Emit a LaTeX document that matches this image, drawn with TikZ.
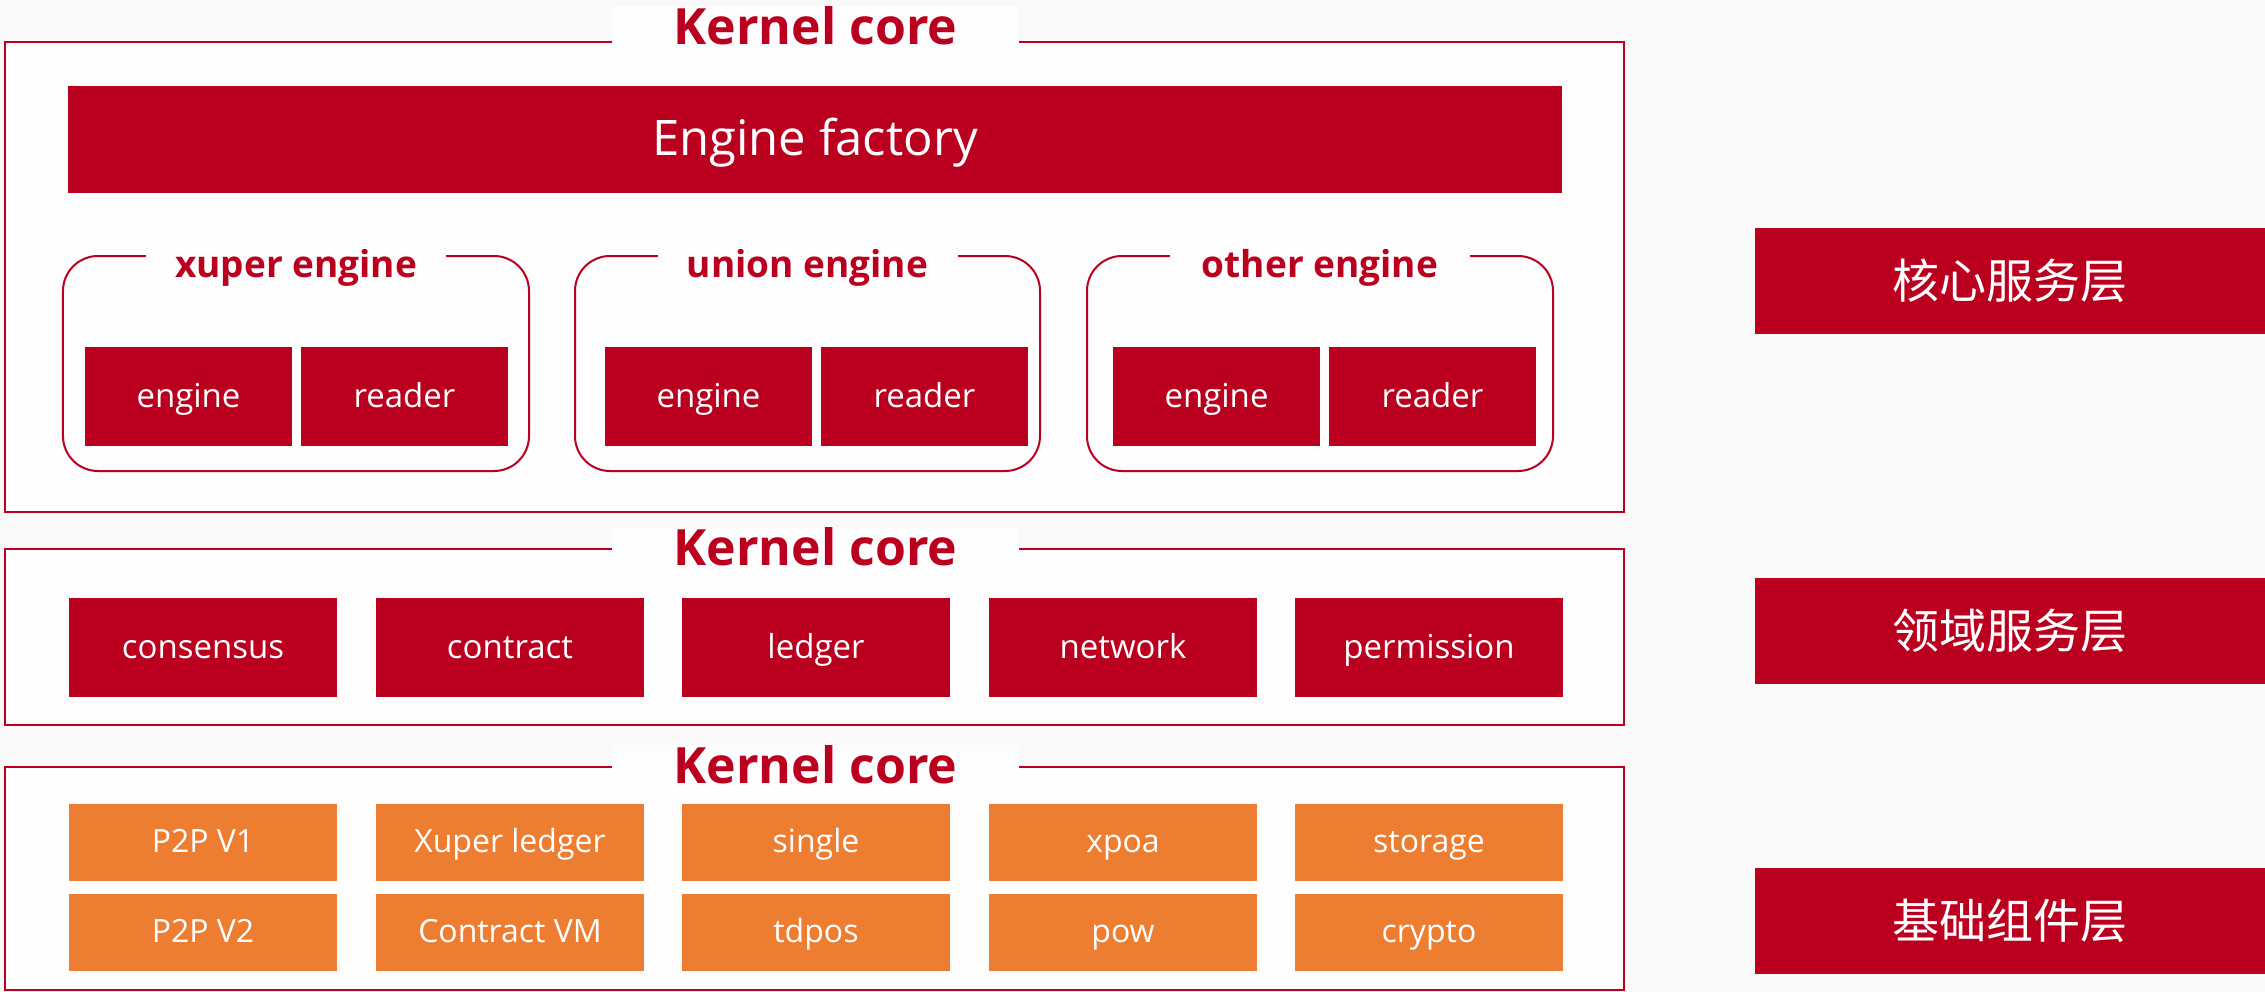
\documentclass[tikz,border=0pt]{standalone}
\usepackage{fontspec}
\setmainfont{Open Sans}
\newfontfamily\cjkfont{Noto Sans CJK SC}
\usepackage{xcolor}
\usepackage{tikz}
\usetikzlibrary{positioning}
\definecolor{kred}{HTML}{BB001F}
\definecolor{korange}{HTML}{ED7D31}
\definecolor{kbg}{HTML}{F9F9F9}
\definecolor{kpaper}{HTML}{FDFDFD}

\begin{document}
\begin{tikzpicture}[x=1bp,y=-1bp,
                    frame/.style={draw=kred,line width=2.5bp,fill=kpaper,
                    rectangle,inner sep=0pt},
                    grpbox/.style={draw=kred,line width=2bp,fill=kpaper,
                    rounded corners=35bp,rectangle,inner sep=0pt},
                    ttl/.style={fill=kpaper,minimum width=#1,inner sep=0pt,
                    anchor=base,text=kred},
                    blk/.style n args={3}{fill=#1,text=white,
                    minimum width=#2,minimum height=#3,
                    inner sep=0pt,rectangle},
                    txt/.style 2 args={text height=#1,text depth=#2}]
    % page
    \fill[kbg] (0,0) rectangle (2265,992);

    % core service layer
    \node[frame,minimum width=1619bp,minimum height=470bp] (core1) at (814.5,277) {};
    \node[ttl=407bp,font=\fontsize{50bp}{60bp}\selectfont\bfseries] (kc1) at (815.5,44) {Kernel core};
    \node[blk={kred}{1494bp}{107bp},txt={40bp}{9bp},font=\fontsize{49bp}{59bp}\selectfont] (ef) at (815,139.5) {Engine factory};

    \node[grpbox,minimum width=466bp,minimum height=215bp] (g1) at (296,363.5) {};
    \node[grpbox,minimum width=465bp,minimum height=215bp] (g2) at (807.5,363.5) {};
    \node[grpbox,minimum width=466bp,minimum height=215bp] (g3) at (1320,363.5) {};
    \node[ttl=300bp,font=\fontsize{37bp}{44bp}\selectfont\bfseries] (t1) at (g1.north |- 0,277) {xuper engine};
    \node[ttl=300bp,font=\fontsize{37bp}{44bp}\selectfont\bfseries] (t2) at (g2.north |- 0,277) {union engine};
    \node[ttl=300bp,font=\fontsize{37bp}{44bp}\selectfont\bfseries] (t3) at (g3.north |- 0,277) {other engine};

    \foreach \n/\x/\t in {e1/188.5/engine,r1/404.5/reader,e2/708.5/engine,
                          r2/924.5/reader,e3/1216.5/engine,r3/1432.5/reader}{
        \node[blk={kred}{207bp}{99bp},txt={27bp}{6bp},font=\fontsize{33bp}{40bp}\selectfont] (\n) at (\x,396.5) {\t};
    }

    % domain service layer
    \node[frame,minimum width=1619bp,minimum height=176bp] (core2) at (814.5,637) {};
    \node[ttl=407bp,font=\fontsize{50bp}{60bp}\selectfont\bfseries] (kc2) at (815.5,565) {Kernel core};
    \foreach \n/\x/\t in {d1/203/consensus,d2/510/contract,d3/816/ledger,d4/1123/network,d5/1429/permission}{
        \node[blk={kred}{268bp}{99bp},txt={27bp}{6bp},font=\fontsize{33bp}{40bp}\selectfont] (\n) at (\x,647.5) {\t};
    }

    % base component layer
    \node[frame,minimum width=1619bp,minimum height=223bp] (core3) at (814.5,878.5) {};
    \node[ttl=407bp,font=\fontsize{50bp}{60bp}\selectfont\bfseries] (kc3) at (815.5,783) {Kernel core};
    \foreach \n/\x/\t in {b1/203/P2P V1,b2/510/Xuper ledger,b3/816/single,b4/1123/xpoa,b5/1429/storage}{
        \node[blk={korange}{268bp}{77bp},txt={26bp}{6.5bp},font=\fontsize{32bp}{38bp}\selectfont] (\n) at (\x,842.5) {\t};
    }
    \foreach \n/\x/\t in {c1/203/P2P V2,c2/510/Contract VM,c3/816/tdpos,c4/1123/pow,c5/1429/crypto}{
        \node[blk={korange}{268bp}{77bp},txt={26bp}{6.5bp},font=\fontsize{32bp}{38bp}\selectfont] (\n) at (\x,932.5) {\t};
    }

    % layer labels
    \node[blk={kred}{510bp}{106bp},font=\fontsize{47bp}{56bp}\cjkfont] (l1) at (2010,281) {核心服务层};
    \node[blk={kred}{510bp}{106bp},font=\fontsize{47bp}{56bp}\cjkfont] (l2) at (2010,631) {领域服务层};
    \node[blk={kred}{510bp}{106bp},font=\fontsize{47bp}{56bp}\cjkfont] (l3) at (2010,921) {基础组件层};
\end{tikzpicture}
\end{document}
